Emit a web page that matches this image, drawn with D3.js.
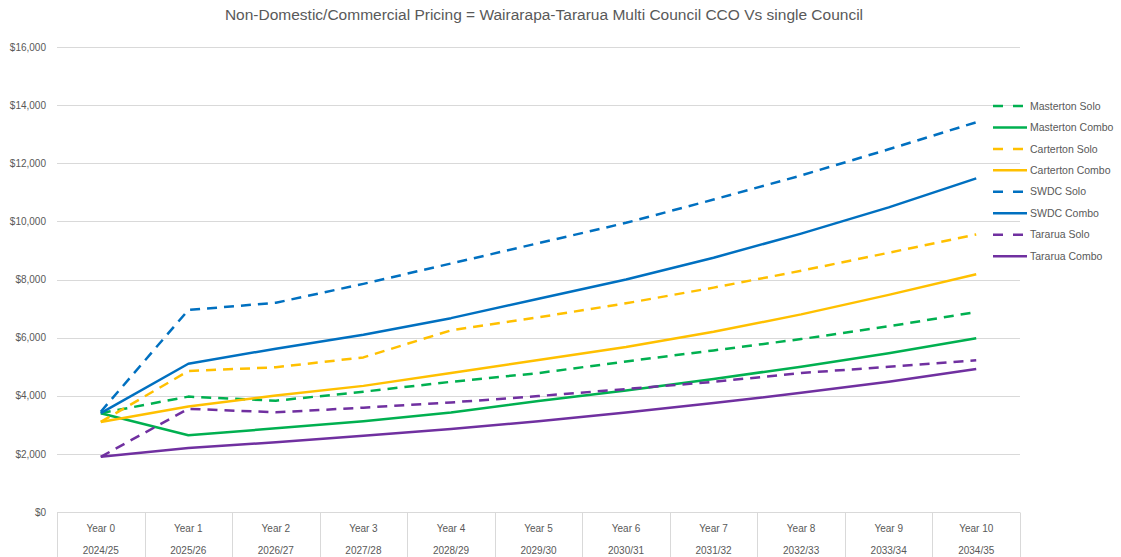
<!DOCTYPE html>
<meta charset="utf-8">
<style>
body { margin: 0; background: #fff; }
svg { font-family: "Liberation Sans", Arial, sans-serif; }
.grid line { stroke: #d9d9d9; stroke-width: 1; }
.y.axis text, .x.axis text { fill: #595959; font-size: 10px; }
.legend text { fill: #595959; font-size: 10.5px; }
</style>
<body>
<script src="https://d3js.org/d3.v7.min.js"></script>
<script>

const years   = ["Year 0","Year 1","Year 2","Year 3","Year 4","Year 5","Year 6","Year 7","Year 8","Year 9","Year 10"];
const periods = ["2024/25","2025/26","2026/27","2027/28","2028/29","2029/30","2030/31","2031/32","2032/33","2033/34","2034/35"];
const yTicks  = [0, 2000, 4000, 6000, 8000, 10000, 12000, 14000, 16000];

const mastertonSolo  = [3400, 3970, 3830, 4140, 4480, 4780, 5180, 5560, 5950, 6390, 6880];
const mastertonCombo = [3400, 2640, 2880, 3120, 3420, 3820, 4180, 4580, 5000, 5460, 5980];
const cartertonSolo  = [3100, 4850, 4980, 5320, 6250, 6700, 7180, 7720, 8300, 8920, 9550];
const cartertonCombo = [3100, 3630, 4010, 4340, 4780, 5230, 5680, 6200, 6800, 7470, 8180];
const swdcSolo       = [3450, 6950, 7200, 7850, 8550, 9250, 9950, 10750, 11580, 12480, 13410];
const swdcCombo      = [3400, 5100, 5620, 6100, 6670, 7340, 8000, 8750, 9580, 10480, 11480];
const tararuaSolo    = [1900, 3550, 3430, 3590, 3770, 3990, 4230, 4480, 4780, 5000, 5220];
const tararuaCombo   = [1900, 2200, 2400, 2620, 2860, 3120, 3420, 3750, 4100, 4480, 4920];

const seriesNames = ["Masterton Solo","Masterton Combo","Carterton Solo","Carterton Combo","SWDC Solo","SWDC Combo","Tararua Solo","Tararua Combo"];
const seriesValues = [mastertonSolo, mastertonCombo, cartertonSolo, cartertonCombo, swdcSolo, swdcCombo, tararuaSolo, tararuaCombo];
const seriesColors = ["#00B050","#00B050","#FFC000","#FFC000","#0070C0","#0070C0","#7030A0","#7030A0"];

var series = seriesNames.map(function(n, i) {
  return { name: n, values: seriesValues[i], color: seriesColors[i], dashed: n.indexOf("Solo") > -1 };
});

var width = 1121, height = 557;
var margin = {left: 57, right: 101, top: 47, bottom: 45};

var svg = d3.select("body").append("svg")
  .attr("width", width)
  .attr("height", height);

var x = d3.scaleBand().domain(years).range([margin.left, width - margin.right]);
var y = d3.scaleLinear().domain([0, 16000]).range([height - margin.bottom, margin.top]);

// title
svg.append("text")
  .attr("x", 544)
  .attr("y", 20)
  .attr("text-anchor", "middle")
  .attr("fill", "#595959")
  .attr("font-size", "15.5px")
  .text("Non-Domestic/Commercial Pricing = Wairarapa-Tararua Multi Council CCO Vs single Council");

// gridlines
svg.append("g").attr("class", "grid")
  .selectAll("line")
  .data(yTicks)
  .enter().append("line")
  .attr("x1", margin.left)
  .attr("x2", width - margin.right)
  .attr("y1", d => Math.round(y(d)) + 0.5)
  .attr("y2", d => Math.round(y(d)) + 0.5);

// y axis labels
var yAxis = d3.axisLeft(y).tickValues(yTicks).tickSize(0).tickPadding(11)
  .tickFormat(d => "$" + d3.format(",")(d));
svg.append("g")
  .attr("class", "y axis")
  .attr("transform", "translate(" + margin.left + ",0)")
  .call(yAxis)
  .call(g => g.select(".domain").remove());

// category axis drawn like a table
var base = Math.round(y(0)) + 0.5;
var xg = svg.append("g").attr("class", "x axis");
xg.selectAll("line.sep")
  .data(years.concat(["end"]))
  .enter().append("line")
  .attr("class", "sep")
  .attr("x1", (d, i) => Math.round(margin.left + i * x.bandwidth()) + 0.5)
  .attr("x2", (d, i) => Math.round(margin.left + i * x.bandwidth()) + 0.5)
  .attr("y1", base)
  .attr("y2", height)
  .attr("stroke", "#d9d9d9");
xg.append("line")
  .attr("x1", margin.left).attr("x2", width - margin.right)
  .attr("y1", base).attr("y2", base)
  .attr("stroke", "#d9d9d9");
xg.selectAll("text.yr")
  .data(years)
  .enter().append("text")
  .attr("class", "yr")
  .attr("x", d => x(d) + x.bandwidth() / 2)
  .attr("y", base + 19)
  .attr("text-anchor", "middle")
  .text(d => d);
xg.selectAll("text.pd")
  .data(periods)
  .enter().append("text")
  .attr("class", "pd")
  .attr("x", (d, i) => x(years[i]) + x.bandwidth() / 2)
  .attr("y", base + 41)
  .attr("text-anchor", "middle")
  .text(d => d);

// lines
var line = d3.line()
  .x((d, i) => x(years[i]) + x.bandwidth() / 2)
  .y(d => y(d));

svg.append("g").selectAll("path")
  .data(series)
  .enter().append("path")
  .attr("d", d => line(d.values))
  .attr("fill", "none")
  .attr("stroke", d => d.color)
  .attr("stroke-width", 2.5)
  .attr("stroke-linejoin", "round")
  .attr("stroke-dasharray", d => d.dashed ? "10,7" : null);

// legend
var legend = svg.selectAll(".legend")
  .data(series)
  .enter().append("g")
  .attr("class", "legend")
  .attr("transform", (d, i) => "translate(993," + (106 + i * 21.45) + ")");

legend.append("line")
  .attr("x1", 0).attr("x2", 34)
  .attr("stroke", d => d.color)
  .attr("stroke-width", 2.5)
  .attr("stroke-dasharray", d => d.dashed ? "10,10" : null);

legend.append("text")
  .attr("x", 37)
  .attr("dy", "0.35em")
  .text(d => d.name);
</script>
</body>
